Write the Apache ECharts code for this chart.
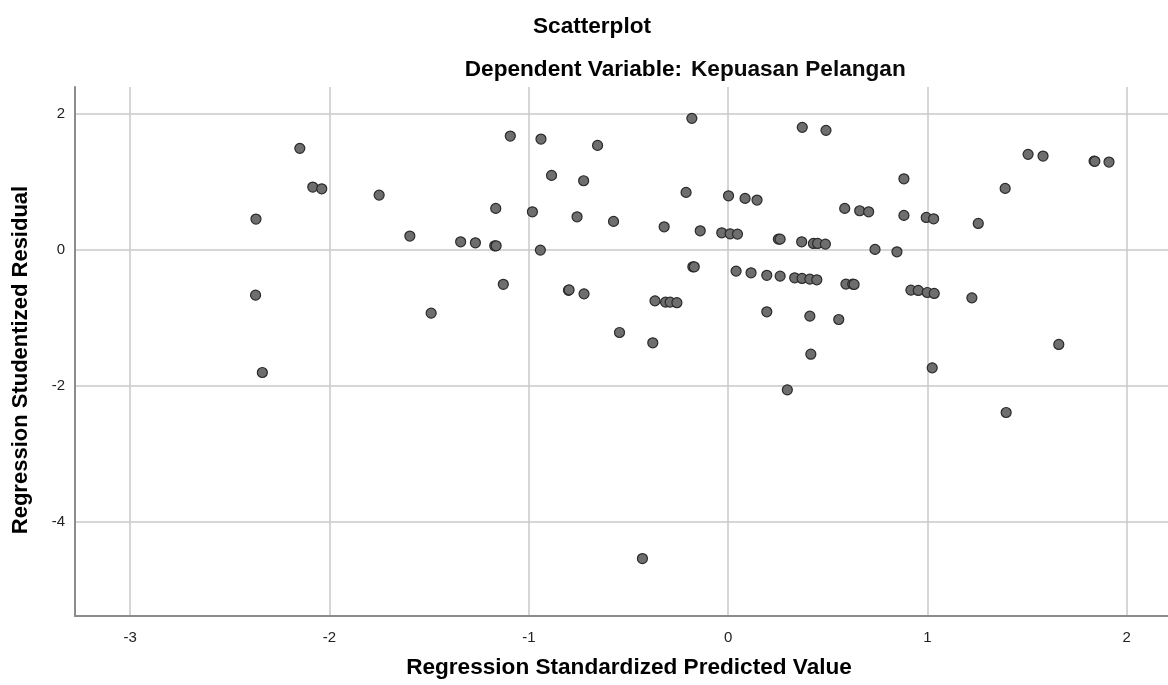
<!DOCTYPE html>
<html>
<head>
<meta charset="utf-8">
<script src="https://cdn.jsdelivr.net/npm/echarts@6/dist/echarts.min.js"></script>
<style>
html,body{margin:0;padding:0;background:#ffffff;}
#chart{width:1168px;height:685px;}
</style>
</head>
<body>
<div id="chart"></div>
<script>
// Tick labels
const xTicks = [-3, -2, -1, 0, 1, 2];
const yTicks = [-4, -2, 0, 2];

// Regression Standardized Predicted Value (x)
const predicted = [
  -2.369, -2.371, -2.337, -2.149, -2.084, -2.039, -1.751, -1.597, -1.490, -1.342,
  -1.268, -1.171, -1.164, -1.166, -1.128, -1.093, -0.982, -0.942, -0.939, -0.886,
  -0.801, -0.798, -0.758, -0.725, -0.723, -0.655, -0.575, -0.545, -0.378, -0.367,
  -0.321, -0.314, -0.291, -0.257, -0.211, -0.182, -0.177, -0.170, -0.140, -0.430,
   0.002, -0.032,  0.010,  0.047,  0.040,  0.085,  0.115,  0.145,  0.194,  0.194,
   0.252,  0.261,  0.261,  0.297,  0.334,  0.369,  0.371,  0.372,  0.410,  0.410,
   0.415,  0.428,  0.445,  0.449,  0.488,  0.491,  0.555,  0.585,  0.591,  0.625,
   0.632,  0.660,  0.705,  0.737,  0.847,  0.882,  0.882,  0.917,  0.954,  0.994,
   0.999,  1.024,  1.031,  1.034,  1.223,  1.255,  1.390,  1.395,  1.505,  1.580,
   1.659,  1.836,  1.840,  1.911
];

// Regression Studentized Residual (y)
const residual = [
   0.449, -0.669, -1.806,  1.488,  0.919,  0.894,  0.801,  0.199, -0.934,  0.115,
   0.100,  0.056,  0.056,  0.606, -0.510,  1.669,  0.556, -0.007,  1.625,  1.091,
  -0.598, -0.592,  0.482,  1.012, -0.650,  1.532,  0.415, -1.218, -1.370, -0.753,
   0.335, -0.772, -0.772, -0.780,  0.841,  1.929, -0.253, -0.253,  0.276, -4.541,
   0.791,  0.247,  0.232,  0.228, -0.316,  0.753, -0.341,  0.728, -0.378, -0.914,
   0.154,  0.154, -0.390, -2.061, -0.414,  0.115, -0.424,  1.797, -0.434, -0.978,
  -1.537,  0.091, -0.444,  0.091,  0.081,  1.753, -1.027,  0.606, -0.507, -0.507,
  -0.512,  0.571,  0.556,  0.003, -0.032,  1.041,  0.503, -0.596, -0.600,  0.473,
  -0.630, -1.738,  0.453, -0.644, -0.709,  0.385,  0.900, -2.394,  1.400,  1.375,
  -1.394,  1.301,  1.298,  1.287
];

const points = predicted.map((x, i) => [x, residual[i]]);

const chart = echarts.init(document.getElementById('chart'), null, {renderer: 'canvas'});
const FONT = '"Liberation Sans", Arial, sans-serif';
const TFONT = 'bold 22.6px ' + FONT;

chart.setOption({
  backgroundColor: '#ffffff',
  animation: false,
  grid: {left: 75, right: 0, top: 87, bottom: 69, containLabel: false},
  xAxis: {
    type: 'value',
    min: -3.277,
    max: 2.207,
    axisLine: {show: true, onZero: false, lineStyle: {color: '#8c8c8c', width: 2}},
    axisTick: {show: false, customValues: xTicks},
    axisLabel: {customValues: xTicks, color: '#222222', fontSize: 15, fontFamily: FONT, margin: 14,
      showMinLabel: true, showMaxLabel: true},
    splitLine: {show: true, lineStyle: {color: '#c8c8c8', width: 1.5}}
  },
  yAxis: {
    type: 'value',
    min: -5.385,
    max: 2.39,
    axisLine: {show: true, onZero: false, lineStyle: {color: '#8c8c8c', width: 2}},
    axisTick: {show: false, customValues: yTicks},
    axisLabel: {customValues: yTicks, color: '#222222', fontSize: 15, fontFamily: FONT, margin: 10},
    splitLine: {show: true, lineStyle: {color: '#c8c8c8', width: 1.5}}
  },
  graphic: [
    {type: 'text', x: 592, y: 27, style: {text: 'Scatterplot', font: TFONT, fill: '#000', textAlign: 'center', textVerticalAlign: 'middle'}},
    {type: 'text', x: 682, y: 70, style: {text: 'Dependent Variable:', font: TFONT, fill: '#000', textAlign: 'right', textVerticalAlign: 'middle'}},
    {type: 'text', x: 691, y: 70, style: {text: 'Kepuasan Pelangan', font: TFONT, fill: '#0a0a0a', textAlign: 'left', textVerticalAlign: 'middle'}},
    {type: 'text', x: 629, y: 668, style: {text: 'Regression Standardized Predicted Value', font: TFONT, fill: '#000', textAlign: 'center', textVerticalAlign: 'middle'}},
    {type: 'text', x: 21, y: 360, rotation: Math.PI / 2, style: {text: 'Regression Studentized Residual', font: 'bold 22px ' + FONT, fill: '#000', textAlign: 'center', textVerticalAlign: 'middle'}}
  ],
  series: [{
    type: 'scatter',
    data: points,
    symbol: 'circle',
    symbolSize: 10,
    itemStyle: {color: '#6e6e6e', borderColor: '#2a2a2a', borderWidth: 1.2, opacity: 1},
    emphasis: {disabled: true}
  }]
});
</script>
</body>
</html>
